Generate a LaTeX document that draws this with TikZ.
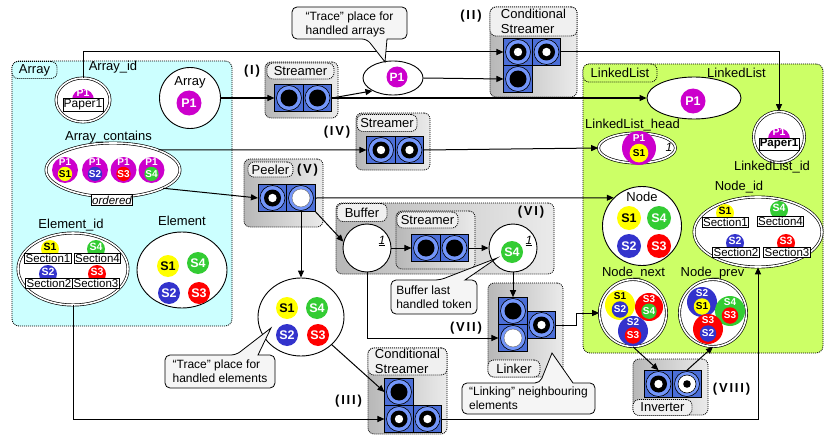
\documentclass[tikz,border=0pt]{standalone}
\usepackage{fontspec}
\setmainfont{Liberation Sans}
\newfontfamily\romfont[LetterSpace=14]{Liberation Sans}
\usetikzlibrary{shapes.geometric,arrows.meta}
\newcommand\myfs[1]{\fontsize{#1}{#1}\selectfont}
\definecolor{cP1}{RGB}{204,0,204}
\definecolor{cS1}{RGB}{255,255,0}
\definecolor{cS2}{RGB}{51,51,204}
\definecolor{cS3}{RGB}{255,0,0}
\definecolor{cS4}{RGB}{51,204,51}
\definecolor{tblue}{RGB}{75,110,215}
\definecolor{tring}{RGB}{115,150,250}
\definecolor{arrbg}{RGB}{204,255,255}
\definecolor{llbg}{RGB}{204,255,102}
\tikzset{
 every node/.style={font=\myfs{13}},
 fP1/.style={fill=cP1}, tP1/.style={text=white},
 fS1/.style={fill=cS1}, tS1/.style={text=black},
 fS2/.style={fill=cS2}, tS2/.style={text=white},
 fS3/.style={fill=cS3}, tS3/.style={text=white},
 fS4/.style={fill=cS4}, tS4/.style={text=white},
 tok/.style={circle,inner sep=0},
 pplace/.style={draw,line width=0.9pt,fill=white,inner sep=0},
 dplace/.style={draw,double=white,double distance=1.6pt,line width=0.65pt,fill=white,inner sep=0},
 region/.style={draw,line width=0.8pt,dash pattern=on 1pt off 1pt,rounded corners=7pt,inner sep=0},
 regl/.style={draw,line width=0.8pt,dash pattern=on 1pt off 1pt,rounded corners=6pt,inner sep=0},
 trbox/.style={draw,line width=0.8pt,dash pattern=on 1pt off 1pt,rounded corners=6pt,inner sep=0,left color=black!28,right color=black!8},
 trl/.style={draw,line width=0.8pt,dash pattern=on 1pt off 1pt,rounded corners=6pt,inner sep=0,fill=black!6},
 trsq/.style={draw=black,line width=0.6pt,fill=tblue,minimum width=28.5pt,minimum height=27pt,inner sep=0},
 ringst/.style={fill=tring,draw=black,line width=0.6pt},
 tA/.style={trsq,path picture={\filldraw[ringst] (path picture bounding box.center) circle (12.5pt);\fill[black] (path picture bounding box.center) circle (8.5pt);}},
 tB/.style={trsq,path picture={\filldraw[ringst] (path picture bounding box.center) circle (12.5pt);\fill[black] (path picture bounding box.center) circle (8.5pt);\fill[white] (path picture bounding box.center) circle (4.2pt);}},
 tC/.style={trsq,path picture={\filldraw[ringst] (path picture bounding box.center) circle (12.5pt);\filldraw[fill=white,draw=black!60,line width=0.4pt] (path picture bounding box.center) circle (9pt);}},
 tD/.style={trsq,path picture={\filldraw[ringst] (path picture bounding box.center) circle (12.5pt);\filldraw[fill=white,draw=black,line width=0.6pt] (path picture bounding box.center) circle (9pt);\fill[black] (path picture bounding box.center) circle (3.8pt);}},
 cn/.style={line width=1pt,-{Triangle[length=7pt,width=6pt]}},
 callout/.style={draw=black,line width=0.8pt,fill=black!4},
 cot/.style={align=left,font=\fontsize{12}{14}\selectfont,inner sep=0},
 secbox/.style={draw,fill=white,line width=0.7pt,inner sep=0.8pt,font=\myfs{11.5}},
 rom/.style={font=\romfont\bfseries\myfs{13},inner sep=0},
 plabel/.style={inner sep=0},
}
\newcommand\stok[5]{\node[tok,f#3,t#3,minimum size=#4pt,font=\bfseries\myfs{#5}] (#1) at #2 {#3};}
\newcommand\ctok[6]{%
 \node[tok,minimum size={2*#4},f#5] (#1) at (#2,#3) {};
 \node[tok,minimum size={1.1*#4},f#6,t#6,font=\bfseries\myfs{10}] (#1i) at (#2,{#3+0.3*#4}) {#6};
 \node[plabel,t#5,font=\bfseries\myfs{10}] (#1o) at (#2,{#3-0.58*#4}) {#5};
}
\newcommand\sectok[7]{%
 \node[tok,minimum size=18pt,f#4] (#1) at (#2,#3) {};
 \node[plabel,t#4,font=\bfseries\myfs{10.5}] (#1t) at (#2,{#3-2}) {#4};
 \node[secbox] (#1b) at (#5,#6) {#7};
}
\begin{document}
\begin{tikzpicture}[x=1pt,y=-1pt]
\useasboundingbox (0,0) rectangle (825,436);
% regions
\node[region,fill=arrbg,minimum width=220pt,minimum height=265pt] (rArr) at (122,193.5) {};
\node[regl,fill=arrbg,minimum width=45pt,minimum height=17pt] (lArr) at (34.5,70) {Array};
\node[region,fill=llbg,minimum width=240pt,minimum height=289pt] (rLL) at (703,208.5) {};
\node[regl,fill=llbg,minimum width=74pt,minimum height=18pt] (lLL) at (620,73) {LinkedList};
% transition boxes
\node[trbox,minimum width=73pt,minimum height=56pt] (bI) at (301.5,90) {};
\node[trl,minimum width=67pt,minimum height=16pt] (lI) at (300.5,71) {Streamer};
\node[rom] (nI) at (252,71) {(I)};
\node[trbox,minimum width=87pt,minimum height=90pt] (bII) at (533.5,52) {};
\node[trl,minimum width=87pt,minimum height=29pt,align=left,font=\fontsize{13}{15}\selectfont] (lII) at (533.5,21.5) {Conditional\\Streamer};
\node[rom] (nII) at (471,16.5) {(II)};
\node[trbox,minimum width=74pt,minimum height=57pt] (bIV) at (393,141.5) {};
\node[trl,minimum width=60pt,minimum height=17pt] (lIV) at (387,123) {Streamer};
\node[rom] (nIV) at (337,132) {(IV)};
\node[trbox,minimum width=79pt,minimum height=68pt] (bV) at (283.5,193) {};
\node[trl,minimum width=45pt,minimum height=15pt] (lV) at (270.5,169.5) {Peeler};
\node[rom] (nV) at (307.5,170.5) {(V)};
\node[trbox,minimum width=218pt,minimum height=71pt] (bVI) at (445,238.5) {};
\node[trl,minimum width=50pt,minimum height=18pt] (lVI) at (362,212.5) {Buffer};
\node[rom] (nVI) at (531,212.5) {(VI)};
\node[trbox,minimum width=79pt,minimum height=58pt] (bVIs) at (435.5,240) {};
\node[trl,minimum width=61pt,minimum height=16pt] (lVIs) at (427.5,220) {Streamer};
\node[trbox,minimum width=75pt,minimum height=94pt] (bVII) at (525.5,330) {};
\node[trl,minimum width=52pt,minimum height=17pt] (lVII) at (514,368.5) {Linker};
\node[rom] (nVII) at (466,328) {(VII)};
\node[trbox,minimum width=79pt,minimum height=86pt] (bIII) at (407.5,391) {};
\node[trl,minimum width=79pt,minimum height=27pt,align=left,font=\fontsize{13}{15}\selectfont] (lIII) at (407.5,361.5) {Conditional\\Streamer};
\node[rom] (nIII) at (348.5,401) {(III)};
\node[trbox,minimum width=75pt,minimum height=56pt] (bVIII) at (670.5,387) {};
\node[trl,minimum width=59pt,minimum height=16pt] (lVIII) at (662.5,407.5) {Inverter};
\node[rom] (nVIII) at (731.5,389) {(VIII)};
% transition tokens
\node[tA] (s1a) at (289,98) {};
\node[tA] (s1b) at (317.5,98) {};
\node[tB] (IIa) at (518,52) {};
\node[tB] (IIb) at (546.5,52) {};
\node[tA] (IIc) at (518,79) {};
\node[tB] (IVa) at (381,150) {};
\node[tB] (IVb) at (409.5,150) {};
\node[tB] (Pa) at (272.5,198) {};
\node[tC] (Pb) at (301,198) {};
\node[tA] (VIa) at (426,248) {};
\node[tA] (VIb) at (454.5,248) {};
\node[tA] (VIIa) at (513,311) {};
\node[tC] (VIIb) at (513,338) {};
\node[tB] (VIIc) at (541.5,325) {};
\node[tA] (IIIa) at (399,392) {};
\node[tB] (IIIb) at (399,419) {};
\node[tB] (IIIc) at (427.5,419) {};
\node[tB] (INa) at (658.5,384) {};
\node[tD] (INb) at (687,384) {};
% places in Array
\node[dplace,ellipse,minimum width=54pt,minimum height=44pt] (aid) at (83,100) {};
\node[plabel] (laid) at (113,67) {Array\_id};
\node[tok,fP1,minimum size=22pt] (aidp) at (83,100) {};
\node[plabel,tP1,font=\bfseries\myfs{10.5}] (aidpt) at (83,93) {P1};
\node[secbox,font=\myfs{12}] (aidb) at (83,105) {Paper1};
\node[pplace,circle,minimum size=61pt] (arr) at (190,98) {};
\node[plabel] (larr) at (190,82) {Array};
\stok{arrp}{(189,103)}{P1}{25}{12.5}
\node[dplace,ellipse,minimum width=134pt,minimum height=54pt] (ac) at (113,170) {};
\node[plabel] (lac) at (108.5,137) {Array\_contains};
\ctok{ac1}{65}{170}{13}{P1}{S1}
\ctok{ac2}{95}{170}{13}{P1}{S2}
\ctok{ac3}{123.5}{170}{13}{P1}{S3}
\ctok{ac4}{151.5}{170}{13}{P1}{S4}
\node[draw,fill=white,inner sep=1pt,line width=0.7pt,font=\itshape\myfs{11.5}] (ord) at (112,200) {ordered};
\node[dplace,ellipse,minimum width=110pt,minimum height=72pt] (eid) at (73,269) {};
\node[plabel] (leid) at (71,225) {Element\_id};
\sectok{e1}{50}{249}{S1}{48}{258.5}{Section1}
\sectok{e4}{96}{249}{S4}{97.5}{258.5}{Section4}
\sectok{e2}{48}{274}{S2}{49}{283}{Section2}
\sectok{e3}{97}{274}{S3}{96}{283}{Section3}
\node[pplace,ellipse,minimum width=90pt,minimum height=76pt] (el) at (182,270) {};
\node[plabel] (lel) at (182,220.5) {Element};
\stok{el1}{(168,266)}{S1}{22}{12.5}
\stok{el4}{(198,263)}{S4}{22}{12.5}
\stok{el2}{(169,293)}{S2}{22}{12.5}
\stok{el3}{(199,293)}{S3}{22}{12.5}
% middle places
\node[pplace,ellipse,minimum width=60pt,minimum height=34pt] (tra) at (393,78) {};
\stok{trap}{(397,77)}{P1}{21}{12}
\node[pplace,ellipse,minimum width=86pt,minimum height=78pt] (te) at (301,317) {};
\stok{te1}{(287,308)}{S1}{22}{12.5}
\stok{te4}{(317,308)}{S4}{22}{12.5}
\stok{te2}{(287,335)}{S2}{22}{12.5}
\stok{te3}{(318,335)}{S3}{22}{12.5}
\node[pplace,circle,minimum size=48pt] (buf) at (367,248) {};
\node[plabel,font=\itshape\myfs{12}] (buf1) at (382,241) {\underline{1}};
\node[pplace,circle,minimum size=48pt] (bl) at (513,248) {};
\stok{blt}{(512,252)}{S4}{22}{12.5}
\node[plabel,font=\itshape\myfs{12}] (bl1) at (529,241) {\underline{1}};
% LinkedList places
\node[pplace,ellipse,minimum width=94pt,minimum height=42pt] (ll) at (694,98) {};
\node[plabel] (lll) at (736.5,73) {LinkedList};
\stok{llp}{(693,101)}{P1}{25}{12.5}
\node[dplace,ellipse,minimum width=77pt,minimum height=30pt] (llh) at (637,148) {};
\node[plabel] (lllh) at (632.5,125) {LinkedList\_head};
\ctok{lh}{639}{148}{17}{P1}{S1}
\node[plabel,font=\itshape\myfs{12}] (llh1) at (669,147) {1};
\node[dplace,circle,minimum size=51pt] (lid) at (779,137) {};
\node[plabel] (llid) at (772,167) {LinkedList\_id};
\node[tok,fP1,minimum size=22pt] (lidp) at (779,139) {};
\node[plabel,tP1,font=\bfseries\myfs{10.5}] (lidpt) at (779,132) {P1};
\node[secbox,font=\bfseries\myfs{11.5}] (lidb) at (779,144) {Paper1};
\node[pplace,circle,minimum size=79pt] (nd) at (642,226) {};
\node[plabel] (lnd) at (642,197) {Node};
\stok{nd1}{(629,218)}{S1}{24}{12.5}
\stok{nd4}{(659,218)}{S4}{24}{12.5}
\stok{nd2}{(629,246)}{S2}{24}{12.5}
\stok{nd3}{(659,246)}{S3}{24}{12.5}
\node[dplace,ellipse,minimum width=128pt,minimum height=70pt] (nid) at (758,232) {};
\node[plabel] (lnid) at (739,187) {Node\_id};
\sectok{n1}{725}{213}{S1}{725.5}{222}{Section1}
\sectok{n4}{779}{210}{S4}{780.5}{221}{Section4}
\sectok{n2}{735}{243}{S2}{736}{252.5}{Section2}
\sectok{n3}{786}{243}{S3}{787}{252}{Section3}
\node[dplace,circle,minimum size=67pt] (nn) at (633,313) {};
\node[plabel] (lnn) at (633.5,273) {Node\_next};
\ctok{nx1}{620}{305}{15}{S1}{S2}
\ctok{nx2}{649}{307}{14}{S3}{S4}
\ctok{nx3}{633}{331}{15}{S2}{S3}
\node[dplace,circle,minimum size=67pt] (np) at (713,313) {};
\node[plabel] (lnp) at (712.5,273) {Node\_prev};
\ctok{np1}{702}{302}{15}{S2}{S1}
\ctok{np2}{730}{311}{15}{S4}{S3}
\ctok{np3}{708}{329}{15}{S3}{S2}
% connectors
\draw[cn] (arr.east) -- (s1a.west);
\draw[cn] (s1b.east) -- (tra.212);
\draw[cn] (s1b.east) -- (ll.west);
\draw[cn] (aid.north) |- (IIa.west);
\draw[cn] (tra.east) -- (IIc.west);
\draw[cn] (IIb.east) -| (lid.north);
\draw[cn] (ac.24) -- (IVa.west);
\draw[cn] (IVb.east) -- (llh.west);
\draw[cn] (ac.-20) -- (Pa.west);
\draw[cn] (Pb.east) -- (nd.135);
\draw[cn] (Pb.south east) -- (buf.165);
\draw[cn] (Pb.south) -- (te.north);
\draw[cn] (buf.east) -- (VIa.west);
\draw[cn] (VIb.east) -- (bl.west);
\draw[cn] (bl.south) -- (VIIa.north);
\draw[cn] (buf.south) |- (VIIb.west);
\draw[cn] (VIIc.east) -- ++(20,0) |- (nn.west);
\draw[cn] (te.-42) -- (IIIa.west);
\draw[cn] (eid.south) |- (IIIb.west);
\draw[cn] (IIIc.east) -| (nid.south);
\draw[cn] (nn.south) -- (INa.north);
\draw[cn] (INb.north) -- (np.south);
% callouts
\draw[callout] (387,39) [rounded corners=5pt] -- (407,39) -- (407,7) -- (292,7) -- (292,39) -- (367,39) [sharp corners] -- (385,62) -- cycle;
\node[cot] (co1) at (349.5,24) {“Trace” place for\\handled arrays};
\draw[callout] (258,355) [rounded corners=5pt] -- (275,355) -- (275,388) -- (165,388) -- (165,355) -- (236,355) [sharp corners] -- (271,328) -- cycle;
\node[cot] (co2) at (220,371.5) {“Trace” place for\\handled elements};
\draw[callout] (465,280) [rounded corners=5pt] -- (477,280) -- (477,314) -- (391,314) -- (391,280) -- (440,280) [sharp corners] -- (497,258) -- cycle;
\node[cot] (co3) at (434,297) {Buffer last\\handled token};
\draw[callout] (573,383) [rounded corners=5pt] -- (595,383) -- (595,414) -- (462,414) -- (462,383) -- (540,383) [sharp corners] -- (552,353) -- cycle;
\node[cot] (co4) at (528.5,398.5) {“Linking” neighbouring\\elements};
\end{tikzpicture}
\end{document}
